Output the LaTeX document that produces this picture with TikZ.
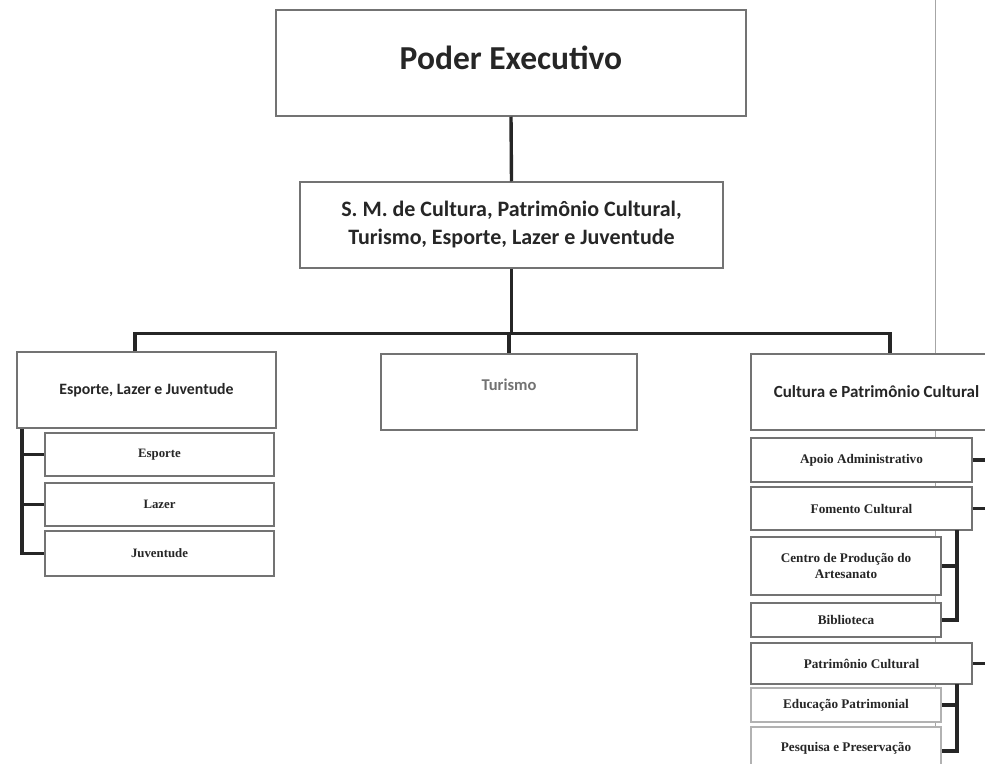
\documentclass[tikz,border=0pt]{standalone}
\usepackage{fontspec}
\newfontfamily\headfont{Carlito}
\newfontfamily\unitfont{Liberation Serif}
\begin{document}
\begin{tikzpicture}[x=1pt,y=-1pt,
  box/.style={draw=black!55,line width=1.5pt,fill=white,inner sep=0pt,align=center,text=black!85},
  head/.style={box,font=\headfont\bfseries},
  unit/.style={box,font=\unitfont\bfseries\fontsize{13.2}{16.5}\selectfont},
  lunit/.style={unit,minimum width=229pt,font=\unitfont\bfseries\fontsize{12.8}{15}\selectfont},
  link/.style={line width=3.4pt,black!85}
]
\useasboundingbox (0,0) rectangle (985,763);
\clip (0,0) rectangle (985,763);

% faint fold line of the sheet
\draw[black!35,line width=0.6pt] (935,0) -- (935,763);

% top levels
\node[head,minimum width=470pt,minimum height=106pt,font=\headfont\bfseries\fontsize{33.5}{38}\selectfont]
  (pe) at (511,63) {\raisebox{11pt}{Poder Executivo}};
\node[head,minimum width=423pt,minimum height=86pt,font=\headfont\bfseries\fontsize{22}{28}\selectfont]
  (sm) at (511.5,225) {S. M. de Cultura, Patrimônio Cultural,\\Turismo, Esporte, Lazer e Juventude};

% departments
\node[head,minimum width=259pt,minimum height=76pt,font=\headfont\bfseries\fontsize{15.8}{19}\selectfont]
  (elj) at (146.5,390) {Esporte, Lazer e Juventude};
\node[head,minimum width=256pt,minimum height=76pt,font=\headfont\bfseries\fontsize{16.5}{19}\selectfont,text=black!55]
  (tur) at (509,392) {\raisebox{14pt}{Turismo}};
\node[head,minimum width=251pt,minimum height=76pt,font=\headfont\bfseries\fontsize{17}{20}\selectfont]
  (cpc) at (876.5,392) {Cultura e Patrimônio Cultural};

% sports, leisure and youth units
\node[lunit,minimum height=43pt] (esp) at (159.5,454.5) {Esporte};
\node[lunit,minimum height=43pt] (laz) at (159.5,504.5) {Lazer};
\node[lunit,minimum height=45pt] (juv) at (159.5,553.5) {Juventude};

% culture and heritage units
\node[unit,minimum width=221pt,minimum height=44pt] (apo) at (861.5,460) {Apoio Administrativo};
\node[unit,minimum width=221pt,minimum height=43pt] (fom) at (861.5,508.5) {Fomento Cultural};
\node[unit,minimum width=190pt,minimum height=58pt] (cen) at (846,566) {Centro de Produção do\\Artesanato};
\node[unit,minimum width=190pt,minimum height=34pt] (bib) at (846,620) {Biblioteca};
\node[unit,minimum width=221pt,minimum height=41pt] (pat) at (861.5,663.5) {Patrimônio Cultural};
\node[unit,minimum width=190pt,minimum height=34pt,draw=black!30] (edu) at (846,705) {Educação Patrimonial};
\node[unit,minimum width=190pt,minimum height=42pt,draw=black!30] (pes) at (846,748) {Pesquisa e Preservação};

% hierarchy connectors
\draw[link] (pe.south) -- (sm.north);
\draw[link] (sm.south) -- ++(0,65) coordinate (bus);
\draw[link] ([xshift=-11.5pt]elj.north) |- (bus) -| ([xshift=13.5pt]cpc.north);
\draw[link] (bus -| tur.north) -- (tur.north);

% bracket of the sports units
\draw[link] ([xshift=-124.5pt]elj.south) coordinate (lb) |- (juv.west);
\draw[link] (lb |- esp.west) -- (esp.west);
\draw[link] (lb |- laz.west) -- (laz.west);

% bracket of the culture units
\coordinate (rb) at (992,430);
\draw[link] (rb) |- (pat.east);
\draw[link] (rb |- apo.east) -- (apo.east);
\draw[link] (rb |- fom.east) -- (fom.east);

% bracket under Fomento Cultural
\coordinate (fb) at (957,530);
\draw[link] (fb) |- (bib.east);
\draw[link] (fb |- cen.east) -- (cen.east);

% bracket under Patrimonio Cultural
\coordinate (pb) at (957,684);
\draw[link] (pb) |- ([yshift=-3pt]pes.east);
\draw[link] (pb |- edu.east) -- (edu.east);
\end{tikzpicture}
\end{document}
